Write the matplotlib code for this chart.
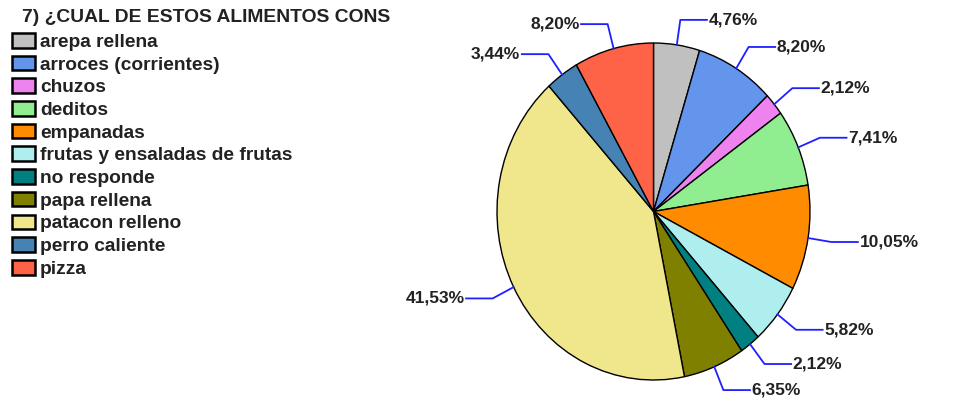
import numpy as np
import matplotlib.pyplot as plt
from matplotlib.patches import Patch

plt.rcParams['font.family'] = ['Liberation Sans', 'DejaVu Sans']

labels = ["arepa rellena", "arroces (corrientes)", "chuzos", "deditos", "empanadas",
          "frutas y ensaladas de frutas", "no responde", "papa rellena",
          "patacon relleno", "perro caliente", "pizza"]
values = [4.76, 8.20, 2.12, 7.41, 10.05, 5.82, 2.12, 6.35, 41.53, 3.44, 8.20]
colors = ["#C0C0C0", "#6495ED", "#EE82EE", "#90EE90", "#FF8C00", "#AFEEEE",
          "#008080", "#808000", "#F0E68C", "#4682B4", "#FF6347"]

W, H = 962, 400
fig = plt.figure(figsize=(W / 100, H / 100), dpi=100)

# pie box in pixels (slightly taller than wide, like the original)
left, top, right, bottom = 497, 43, 810, 380
ax = fig.add_axes([left / W, 1 - bottom / H, (right - left) / W, (bottom - top) / H])
wedges, _ = ax.pie(values, colors=colors, startangle=90, counterclock=False,
                   wedgeprops=dict(edgecolor='black', linewidth=1.0))
ax.set_aspect('auto')
ax.set_xlim(-1, 1)
ax.set_ylim(-1, 1)
ax.axis('off')

total = sum(values)
cum = 0
for w, v in zip(wedges, values):
    mid = 90 - 360 * (cum + v / 2) / total
    cum += v
    a = np.deg2rad(mid)
    x0, y0 = np.cos(a), np.sin(a)
    ex, ey = 1.15 * x0, 1.15 * y0
    side = 1 if x0 >= 0 else -1
    tx = ex + side * 0.17
    txt = f"{v:.2f}%".replace('.', ',')
    ax.plot([x0, ex, tx], [y0, ey, ey], color='#2020FF', lw=1.3, clip_on=False)
    ax.text(tx + side * 0.01, ey, txt, ha='left' if side > 0 else 'right', va='center',
            fontsize=12.5, fontweight='bold', color='#222222', clip_on=False)

fig.text(22 / W, 1 - 18 / H, "7) ¿CUAL DE ESTOS ALIMENTOS CONS", fontsize=13.9,
         fontweight='bold', color='#222222', ha='left', va='center')

handles = [Patch(facecolor=c, edgecolor='black', linewidth=1.8) for c in colors]
leg = fig.legend(handles, labels, loc='upper left', bbox_to_anchor=(12 / W, 1 - 33 / H),
                 frameon=False, handlelength=1.2, handleheight=0.8,
                 handletextpad=0.25, labelspacing=0.245, borderpad=0, borderaxespad=0,
                 prop=dict(weight='bold', size=13.8))
for t in leg.get_texts():
    t.set_color('#222222')

fig.savefig("out.png", dpi=100)
